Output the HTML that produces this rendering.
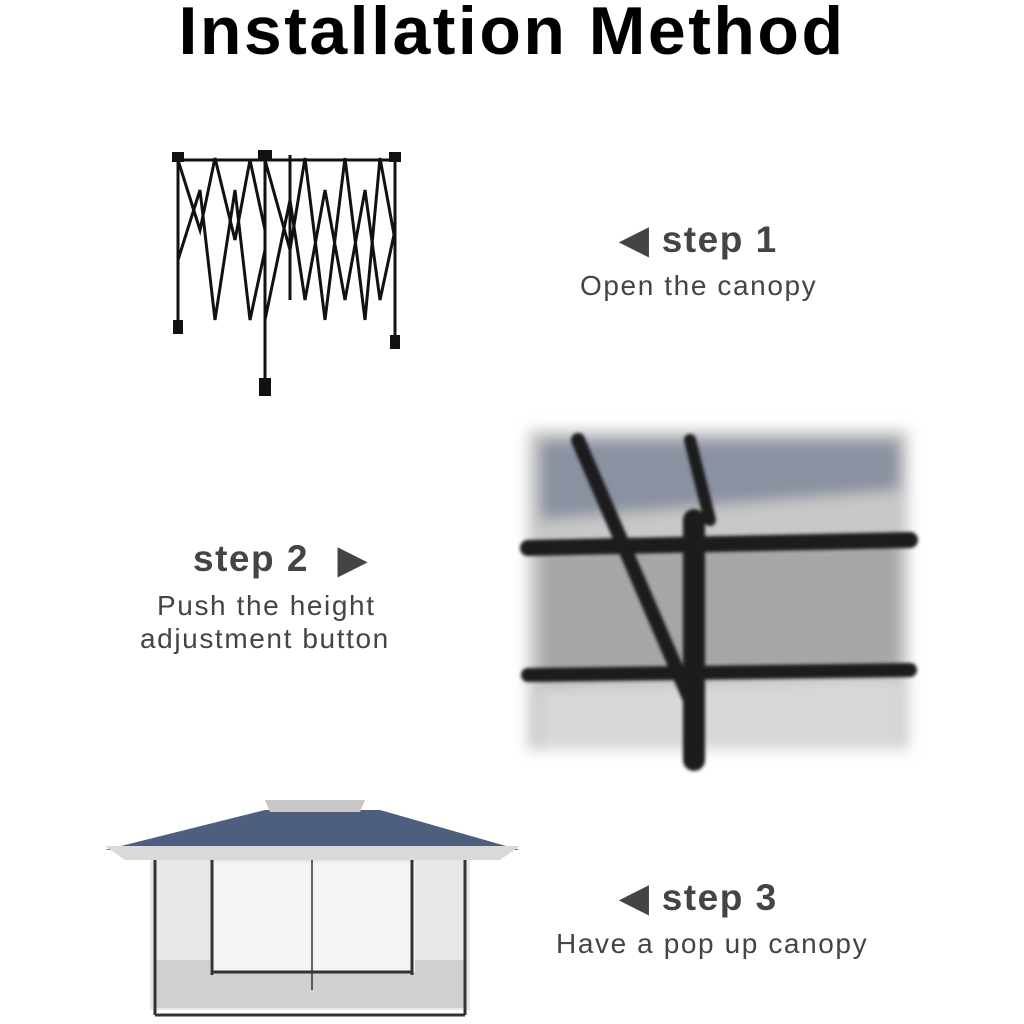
<!DOCTYPE html>
<html><head><meta charset="utf-8"><style>
html,body{margin:0;padding:0;background:#fff;}
body{width:1024px;height:1024px;position:relative;overflow:hidden;font-family:"Liberation Sans",sans-serif;}
.t{position:absolute;white-space:nowrap;color:#444;}
.title{left:0;width:1024px;text-align:center;top:-8px;font-size:68px;font-weight:bold;color:#000;letter-spacing:2.5px;}
.h{font-size:37px;font-weight:bold;letter-spacing:1.5px;}
.s{font-size:28px;letter-spacing:1.6px;}
</style></head><body>
<div class="t title">Installation Method</div>

<svg style="position:absolute;left:0;top:0" width="1024" height="1024">
 <defs>
  <filter id="b" x="-10%" y="-10%" width="120%" height="120%"><feGaussianBlur stdDeviation="7"/></filter>
  <filter id="b2"><feGaussianBlur stdDeviation="1.5"/></filter>
 </defs>
 <!-- step1 frame -->
 <g stroke="#111" stroke-width="3" fill="none">
  <line x1="178" y1="158" x2="178" y2="330"/>
  <line x1="265" y1="155" x2="265" y2="390"/>
  <line x1="395" y1="158" x2="395" y2="345"/>
  <line x1="290" y1="155" x2="290" y2="300"/>
  <path d="M178 160 L200 230 L215 158 L235 240 L250 160 L265 230"/>
  <path d="M178 260 L200 190 L215 320 L235 190 L250 320 L265 250"/>
  <path d="M265 160 L290 250 L305 158 L325 320 L345 158 L365 320 L380 158 L395 240"/>
  <path d="M265 320 L290 200 L305 300 L325 190 L345 300 L365 190 L380 300 L395 230"/>
  <path d="M178 160 L395 160"/>
 </g>
 <g fill="#111">
  <rect x="173" y="320" width="10" height="14"/><rect x="259" y="378" width="12" height="18"/>
  <rect x="390" y="335" width="10" height="14"/><rect x="258" y="150" width="14" height="10"/>
  <rect x="172" y="152" width="12" height="10"/><rect x="389" y="152" width="12" height="10"/>
 </g>
 <!-- step2 photo -->
 <g filter="url(#b)">
  <rect x="528" y="430" width="380" height="320" fill="#c8c8c8"/>
  <polygon points="540,440 900,440 900,490 540,520" fill="#8a91a0"/>
  <polygon points="540,550 900,540 900,670 540,680" fill="#a6a6a6"/>
  <polygon points="540,690 900,680 900,750 540,750" fill="#d8d8d8"/>
 </g>
 <g stroke="#1c1c1c" stroke-linecap="round" filter="url(#b2)">
  <line x1="528" y1="548" x2="910" y2="540" stroke-width="16"/>
  <line x1="528" y1="675" x2="910" y2="670" stroke-width="14"/>
  <line x1="578" y1="440" x2="690" y2="700" stroke-width="14"/>
  <line x1="690" y1="440" x2="710" y2="520" stroke-width="12"/>
  <line x1="694" y1="520" x2="694" y2="760" stroke-width="22"/>
 </g>
 <!-- step3 canopy -->
 <polygon points="265,810 380,810 520,850 105,850" fill="#4e5f7e"/>
 <polygon points="265,800 365,800 360,812 270,812" fill="#c8c8c8"/>
 <polygon points="105,846 520,846 500,860 125,860" fill="#d9d9d9"/>
 <rect x="150" y="860" width="320" height="150" fill="#e8e8e8"/>
 <rect x="155" y="960" width="310" height="48" fill="#d0d0d0"/>
 <rect x="210" y="862" width="205" height="110" fill="#f4f4f4"/>
 <g stroke="#333" stroke-width="3">
  <line x1="155" y1="860" x2="155" y2="1015"/><line x1="465" y1="860" x2="465" y2="1015"/>
  <line x1="212" y1="860" x2="212" y2="975"/><line x1="412" y1="860" x2="412" y2="975"/>
  <line x1="155" y1="1015" x2="465" y2="1015"/><line x1="212" y1="972" x2="412" y2="972"/>
  <line x1="312" y1="860" x2="312" y2="990" stroke-width="1.5"/>
 </g>
</svg>

<div class="t h" style="left:620px;top:218px;">◀ step 1</div>
<div class="t s" style="left:580px;top:270px;">Open the canopy</div>

<div class="t h" style="left:193px;top:538px;">step 2</div>
<div class="t h" style="left:338px;top:538px;">▶</div>
<div class="t s" style="left:157px;top:590px;">Push the height</div>
<div class="t s" style="left:140px;top:623px;">adjustment button</div>

<div class="t h" style="left:620px;top:876px;">◀ step 3</div>
<div class="t s" style="left:556px;top:928px;">Have a pop up canopy</div>
</body></html>
